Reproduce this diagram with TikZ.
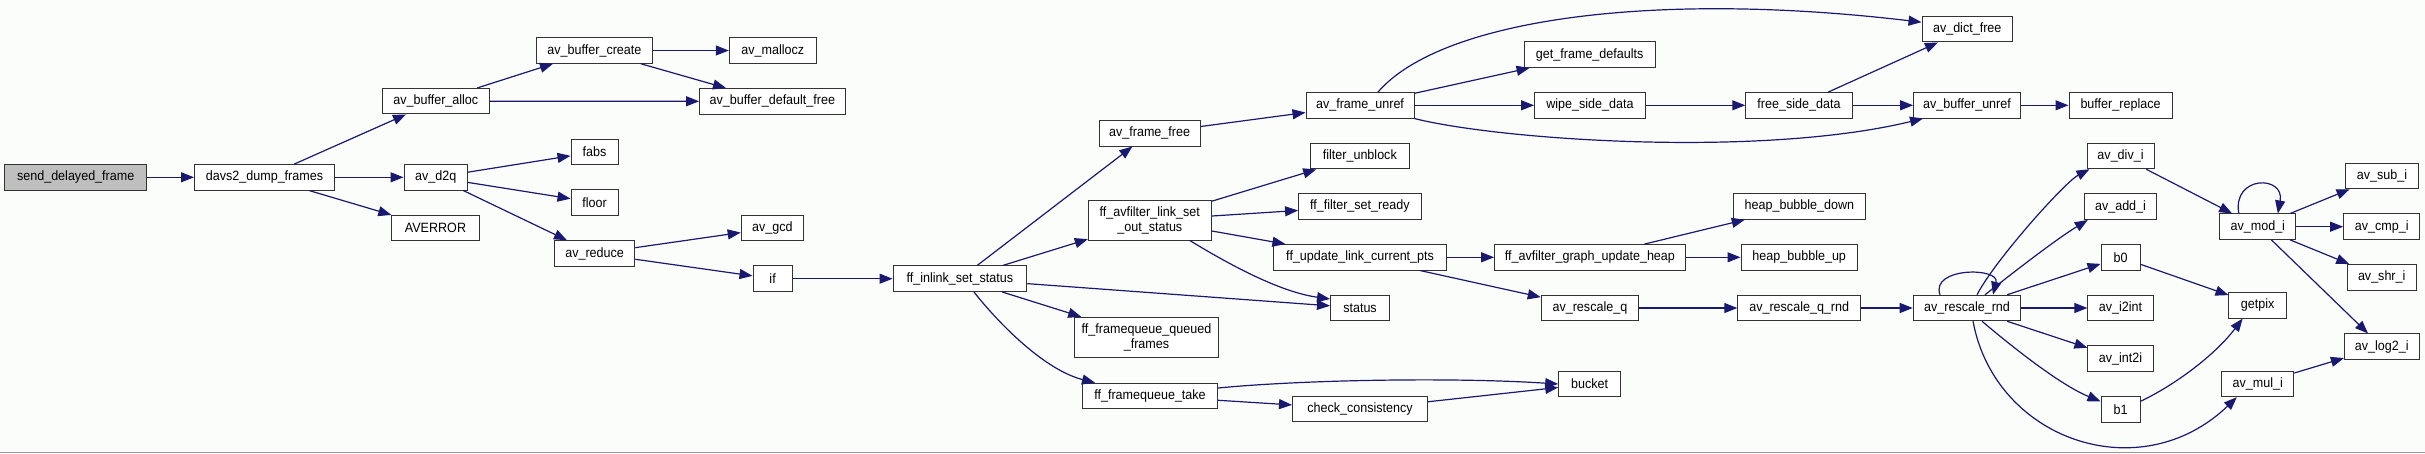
\documentclass[tikz,border=0pt]{standalone}
\usepackage{fontspec}
\setmainfont{Liberation Sans}[FakeStretch=0.93]
\usepackage{xcolor}
\usetikzlibrary{arrows.meta}
\definecolor{edgeblue}{RGB}{25,25,112}
\definecolor{rootgray}{RGB}{191,191,191}
\definecolor{pagebg}{RGB}{251,253,251}

\tikzset{
  fn/.style={draw=black!80, line width=1pt, fill=white, minimum height=25.5pt,
    inner sep=0pt, align=center, font=\fontsize{13.5}{15}\selectfont},
  fnroot/.style={fn, fill=rootgray},
  call/.style={edgeblue, line width=1.2pt, -{Triangle[length=13pt,width=10pt]}},
}

\begin{document}
\begin{tikzpicture}[x=1pt,y=-1pt]
\fill[pagebg] (0,0) rectangle (2425,453);
\useasboundingbox (0,0) rectangle (2425,453);
\draw[black!40, line width=1.3pt] (0,452.3) -- (2425,452.3);

% columns, left to right
\node[fnroot, minimum width=142pt] (send) at (75.7,177.3) {send\_delayed\_frame};
\node[fn, minimum width=140pt] (dump) at (264.5,177.3) {davs2\_dump\_frames};

\node[fn, minimum width=106.7pt] (alloc) at (435.8,101.2) {av\_buffer\_alloc};
\node[fn, minimum width=63.4pt] (d2q) at (435.7,177.3) {av\_d2q};
\node[fn, minimum width=87.3pt] (averror) at (435.5,228) {AVERROR};

\node[fn, minimum width=115.6pt] (create) at (594.4,50.5) {av\_buffer\_create};
\node[fn, minimum width=47pt] (fabs) at (594.5,152) {fabs};
\node[fn, minimum width=47pt] (floor) at (594.5,202.5) {floor};
\node[fn, minimum width=80.4pt] (reduce) at (594.6,253.5) {av\_reduce};

\node[fn, minimum width=87pt] (malloc) at (772.8,50.5) {av\_mallocz};
\node[fn, minimum width=145.6pt] (deffree) at (772.4,101.3) {av\_buffer\_default\_free};
\node[fn, minimum width=62.4pt] (gcd) at (772.4,228) {av\_gcd};
\node[fn, minimum width=39.2pt] (if) at (772.6,278.7) {if};

\node[fn, minimum width=133.7pt] (inlink) at (959.9,278.7) {ff\_inlink\_set\_status};

\node[fn, minimum width=101.2pt] (framefree) at (1149.6,133.3) {av\_frame\_free};
\node[fn, minimum width=123pt, minimum height=40pt] (outstatus) at (1149.8,220) {ff\_avfilter\_link\_set\\\_out\_status};
\node[fn, minimum width=144pt, minimum height=40pt] (queued) at (1146.5,337.3) {ff\_framequeue\_queued\\\_frames};
\node[fn, minimum width=135.2pt] (take) at (1150,396) {ff\_framequeue\_take};

\node[fn, minimum width=108pt] (unref) at (1360,105.3) {av\_frame\_unref};
\node[fn, minimum width=99pt] (unblock) at (1359.8,156.2) {filter\_unblock};
\node[fn, minimum width=122.5pt] (ready) at (1359.8,206.5) {ff\_filter\_set\_ready};
\node[fn, minimum width=173.2pt] (updpts) at (1360.1,257.3) {ff\_update\_link\_current\_pts};
\node[fn, minimum width=59pt] (status) at (1360,308) {status};
\node[fn, minimum width=135pt] (consist) at (1360,409.2) {check\_consistency};

\node[fn, minimum width=131pt] (defaults) at (1589.7,54.7) {get\_frame\_defaults};
\node[fn, minimum width=110.7pt] (wipe) at (1589.9,105.3) {wipe\_side\_data};
\node[fn, minimum width=190.6pt] (heap) at (1589.9,257.3) {ff\_avfilter\_graph\_update\_heap};
\node[fn, minimum width=97.3pt] (rescaleq) at (1589.9,308) {av\_rescale\_q};
\node[fn, minimum width=62pt] (bucket) at (1589.7,384) {bucket};

\node[fn, minimum width=106.5pt] (freeside) at (1799,105.3) {free\_side\_data};
\node[fn, minimum width=132.8pt] (bubdown) at (1799.4,206.5) {heap\_bubble\_down};
\node[fn, minimum width=116.4pt] (bubup) at (1799.2,257.3) {heap\_bubble\_up};
\node[fn, minimum width=122.8pt] (qrnd) at (1799.2,308) {av\_rescale\_q\_rnd};

\node[fn, minimum width=90.4pt] (dictfree) at (1967.2,29.2) {av\_dict\_free};
\node[fn, minimum width=106.8pt] (bufunref) at (1967,105.3) {av\_buffer\_unref};
\node[fn, minimum width=107.6pt] (rnd) at (1967,308) {av\_rescale\_rnd};

\node[fn, minimum width=103pt] (replace) at (2120.5,105.3) {buffer\_replace};
\node[fn, minimum width=67pt] (divi) at (2120.5,156) {av\_div\_i};
\node[fn, minimum width=72.5pt] (addi) at (2120.5,206.7) {av\_add\_i};
\node[fn, minimum width=39pt] (b0) at (2120.5,257.3) {b0};
\node[fn, minimum width=65.3pt] (i2int) at (2120.5,308) {av\_i2int};
\node[fn, minimum width=65.3pt] (int2i) at (2120.5,358.7) {av\_int2i};
\node[fn, minimum width=39pt] (b1) at (2120.5,409.3) {b1};

\node[fn, minimum width=76pt] (modi) at (2257.8,226.7) {av\_mod\_i};
\node[fn, minimum width=57.3pt] (getpix) at (2257.6,305.3) {getpix};
\node[fn, minimum width=72pt] (muli) at (2257.8,384) {av\_mul\_i};

\node[fn, minimum width=72.6pt] (subi) at (2382,176) {av\_sub\_i};
\node[fn, minimum width=76.2pt] (cmpi) at (2381.7,226.7) {av\_cmp\_i};
\node[fn, minimum width=69pt] (shri) at (2381.7,277.3) {av\_shr\_i};
\node[fn, minimum width=74.6pt] (log2i) at (2381.7,346.7) {av\_log2\_i};

% straight calls
\foreach \a/\b in {send/dump, dump/alloc, dump/d2q, dump/averror,
    alloc/create, alloc/deffree, create/malloc, create/deffree,
    d2q/fabs, d2q/floor, d2q/reduce, reduce/gcd, reduce/if, if/inlink,
    inlink/framefree, inlink/outstatus, inlink/status, inlink/queued,
    framefree/unref, outstatus/unblock, outstatus/ready, outstatus/updpts,
    take/consist, consist/bucket, unref/defaults, unref/wipe,
    wipe/freeside, freeside/dictfree, freeside/bufunref, bufunref/replace,
    updpts/heap, updpts/rescaleq, heap/bubdown, heap/bubup,
    rescaleq/qrnd, qrnd/rnd, rnd/b0, rnd/i2int, rnd/int2i,
    divi/modi, modi/subi, modi/cmpi, modi/shri, modi/log2i,
    b0/getpix, muli/log2i}{
  \draw[call] (\a) -- (\b);
}

% bent calls
\draw[call] ([xshift=14pt]inlink.south) .. controls (1000,325) and (1045,370) .. ([xshift=-55pt]take.north);
\draw[call] ([xshift=40pt]outstatus.south) .. controls (1230,265) and (1280,292) .. ([yshift=9pt]status.west);
\draw[call] ([yshift=8pt]take.east) .. controls (1300,380) and (1450,377) .. (bucket.west);
\draw[call] ([xshift=18pt]unref.north) .. controls (1440,20) and (1650,-10) .. ([yshift=7pt]dictfree.west);
\draw[call] (unref.south east) .. controls (1500,140) and (1760,158) .. ([xshift=-44pt]bufunref.south);
\draw[call] ([xshift=-27pt]rnd.north) .. controls (1930,267) and (2000,267) .. ([xshift=26pt]rnd.north);
\draw[call] ([xshift=10pt]rnd.north) .. controls (1995,260) and (2065,182) .. ([xshift=3pt]divi.south west);
\draw[call] ([xshift=18pt]rnd.north) .. controls (2010,275) and (2055,240) .. ([xshift=4pt]addi.south west);
\draw[call] ([xshift=15pt]rnd.south) .. controls (2010,345) and (2060,385) .. ([yshift=8pt]b1.west);
\draw[call] ([xshift=6pt]rnd.south) .. controls (1995,440) and (2140,490) .. ([xshift=-21pt]muli.south);
\draw[call] ([xshift=-19pt]modi.north) .. controls (2232,175) and (2285,175) .. ([xshift=20pt]modi.north);
\draw[call] ([yshift=8pt]b1.east) .. controls (2175,385) and (2215,355) .. ([xshift=-15pt]getpix.south);
\end{tikzpicture}
\end{document}
